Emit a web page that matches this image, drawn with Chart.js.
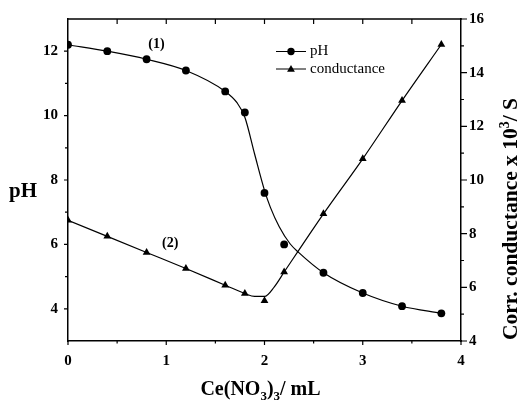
<!DOCTYPE html>
<html><head><meta charset="utf-8">
<script src="https://cdn.jsdelivr.net/npm/chart.js@4/dist/chart.umd.min.js"></script>
<style>html,body{margin:0;padding:0;background:#fff}canvas{display:block}</style>
</head><body>
<canvas id="c" width="520" height="400"></canvas>
<script>
// ---- data ----
const volume = [0, 0.4, 0.8, 1.2, 1.6, 1.8, 2.0, 2.2, 2.6, 3.0, 3.4, 3.8];
const pHValues = [12.2, 12.0, 11.75, 11.4, 10.75, 10.1, 7.6, 6.0, 5.12, 4.49, 4.08, 3.86];
const conductanceValues = [8.5, 7.9, 7.3, 6.7, 6.08, 5.77, 5.5, 6.57, 8.74, 10.79, 12.96, 15.05];
// fitted curves
const pHCurveX = [0, 0.4, 0.8, 1.2, 1.6, 1.72, 1.8, 1.9, 2.0, 2.06, 2.15, 2.26, 2.344, 2.6, 3.0, 3.4, 3.8];
const pHCurveY = [12.2, 12.0, 11.75, 11.4, 10.75, 10.4, 9.95, 8.8, 7.68, 7.15, 6.55, 6.02, 5.76, 5.12, 4.49, 4.08, 3.86];
const condCurveX = [0, 0.4, 0.8, 1.2, 1.6, 1.8, 1.9, 2.0, 2.1, 2.2, 2.6, 3.0, 3.4, 3.8];
const condCurveY = [8.5, 7.9, 7.3, 6.7, 6.08, 5.77, 5.66, 5.66, 6.02, 6.57, 8.74, 10.79, 12.96, 15.05];
const xTicks = [0, 1, 2, 3, 4];
const pHTicks = [4, 6, 8, 10, 12];
const condTicks = [4, 6, 8, 10, 12, 14, 16];
const legendLabels = ['pH', 'conductance'];
const curveLabels = ['(1)', '(2)'];

const SERIF = "'Liberation Serif','DejaVu Serif',serif";
const pts = (xs, ys) => xs.map((v, i) => ({x: v, y: ys[i]}));

function drawTriangle(ctx, cx, cy, r) {
  ctx.beginPath();
  for (let k = 0; k < 3; k++) {
    const ang = -Math.PI / 2 + k * 2 * Math.PI / 3;
    const px = cx + r * Math.cos(ang), py = cy + r * Math.sin(ang);
    k ? ctx.lineTo(px, py) : ctx.moveTo(px, py);
  }
  ctx.closePath(); ctx.fill();
}

const decor = {
  id: 'decor',
  afterDraw(chart) {
    const {ctx, chartArea: a, scales: {x, y, y2}} = chart;
    ctx.save();
    ctx.strokeStyle = '#000'; ctx.fillStyle = '#000';
    // top frame
    ctx.lineWidth = 1.5;
    ctx.beginPath(); ctx.moveTo(a.left - 0.75, a.top); ctx.lineTo(a.right + 0.75, a.top); ctx.stroke();
    // ticks
    ctx.lineWidth = 1.2;
    ctx.beginPath();
    for (let i = 0; i <= 8; i++) {
      const v = i / 2, px = x.getPixelForValue(v), maj = i % 2 === 0;
      ctx.moveTo(px, a.bottom); ctx.lineTo(px, a.bottom + (maj ? 4 : 2.5));
      if (i > 0 && i < 8) { ctx.moveTo(px, a.top); ctx.lineTo(px, a.top + 5); }
    }
    for (let v = 4; v <= 12; v++) {
      const py = y.getPixelForValue(v);
      ctx.moveTo(a.left, py); ctx.lineTo(a.left - (v % 2 === 0 ? 4 : 3), py);
    }
    for (let v = 4; v <= 16; v++) {
      const py = y2.getPixelForValue(v);
      ctx.moveTo(a.right, py); ctx.lineTo(a.right + (v % 2 === 0 ? 6 : 3), py);
    }
    ctx.stroke();

    // curve labels
    ctx.font = 'bold 14px ' + SERIF;
    ctx.textAlign = 'center'; ctx.textBaseline = 'middle';
    ctx.fillText(curveLabels[0], x.getPixelForValue(0.9), y.getPixelForValue(12.2));
    ctx.fillText(curveLabels[1], x.getPixelForValue(1.04), y.getPixelForValue(6.02));

    // legend
    const lx = a.left + 208, ly1 = a.top + 32.5, ly2 = a.top + 50;
    ctx.lineWidth = 1;
    ctx.beginPath();
    ctx.moveTo(lx, ly1); ctx.lineTo(lx + 30, ly1);
    ctx.moveTo(lx, ly2); ctx.lineTo(lx + 30, ly2);
    ctx.stroke();
    ctx.beginPath(); ctx.arc(lx + 15, ly1, 3.7, 0, 2 * Math.PI); ctx.fill();
    drawTriangle(ctx, lx + 15, ly2 + 0.5, 4.5);
    ctx.font = '15px ' + SERIF;
    ctx.textAlign = 'left';
    ctx.fillText(legendLabels[0], lx + 34, ly1);
    ctx.fillText(legendLabels[1], lx + 34, ly2);

    // left axis title
    ctx.font = 'bold 21px ' + SERIF;
    ctx.textAlign = 'center'; ctx.textBaseline = 'alphabetic';
    ctx.fillText('pH', 23, 197);

    // x axis title with subscripts
    const big = 'bold 20px ' + SERIF, small = 'bold 13px ' + SERIF;
    const xParts = [['Ce(NO', big, 0], ['3', small, 5], [')', big, 0], ['3', small, 5], ['/ mL', big, 0]];
    let tw = 0;
    xParts.forEach(p => { ctx.font = p[1]; tw += ctx.measureText(p[0]).width; });
    let cx = (a.left + a.right) / 2 - 4 - tw / 2;
    ctx.textAlign = 'left';
    xParts.forEach(p => { ctx.font = p[1]; ctx.fillText(p[0], cx, 395 + p[2]); cx += ctx.measureText(p[0]).width; });

    // right axis title (rotated) with superscript
    const rbig = 'bold 21.5px ' + SERIF, rsmall = 'bold 14px ' + SERIF;
    ctx.translate(517, 219);
    ctx.rotate(-Math.PI / 2);
    const rParts = [['Corr. conductance x 10', rbig, 0], ['3', rsmall, -8], ['/ S', rbig, 0]];
    tw = 0;
    rParts.forEach(p => { ctx.font = p[1]; tw += ctx.measureText(p[0]).width; });
    cx = -tw / 2;
    rParts.forEach(p => { ctx.font = p[1]; ctx.fillText(p[0], cx, p[2]); cx += ctx.measureText(p[0]).width; });
    ctx.restore();
  }
};

new Chart(document.getElementById('c'), {
  type: 'scatter',
  data: {
    datasets: [
      {label: 'pH fit', data: pts(pHCurveX, pHCurveY), yAxisID: 'y', showLine: true, pointRadius: 0,
       borderColor: '#000', borderWidth: 1.2, cubicInterpolationMode: 'monotone'},
      {label: 'cond fit', data: pts(condCurveX, condCurveY), yAxisID: 'y2', showLine: true, pointRadius: 0,
       borderColor: '#000', borderWidth: 1.2, cubicInterpolationMode: 'monotone'},
      {label: legendLabels[0], data: pts(volume, pHValues), yAxisID: 'y', pointStyle: 'circle', pointRadius: 3.9,
       backgroundColor: '#000', borderColor: '#000', borderWidth: 0},
      {label: legendLabels[1], data: pts(volume, conductanceValues), yAxisID: 'y2', pointStyle: 'triangle', pointRadius: 4.5,
       backgroundColor: '#000', borderColor: '#000', borderWidth: 0}
    ]
  },
  options: {
    responsive: false, animation: false,
    layout: {padding: {top: 16, left: 0, right: 0, bottom: 0}},
    plugins: {legend: {display: false}, tooltip: {enabled: false}},
    scales: {
      x: {type: 'linear', position: 'bottom', min: 0, max: 4,
          afterBuildTicks: s => { s.ticks = xTicks.map(v => ({value: v})); },
          afterFit: s => { s.height = 59; },
          grid: {display: false, drawTicks: false},
          border: {display: true, color: '#000', width: 1.5},
          ticks: {color: '#000', padding: 11, font: {family: SERIF, size: 15, weight: 'bold'}}},
      y: {type: 'linear', position: 'left', min: 3, max: 13,
          afterBuildTicks: s => { s.ticks = pHTicks.map(v => ({value: v})); },
          afterFit: s => { s.width = 68; },
          grid: {display: false, drawTicks: false},
          border: {display: true, color: '#000', width: 1.5},
          ticks: {color: '#000', padding: 10, font: {family: SERIF, size: 15, weight: 'bold'}}},
      y2: {type: 'linear', position: 'right', min: 4, max: 16,
          afterBuildTicks: s => { s.ticks = condTicks.map(v => ({value: v})); },
          afterFit: s => { s.width = 59; },
          grid: {display: false, drawTicks: false},
          border: {display: true, color: '#000', width: 1.5},
          ticks: {color: '#000', padding: 8, font: {family: SERIF, size: 15, weight: 'bold'}}}
    }
  },
  plugins: [decor]
});
</script>
</body></html>
